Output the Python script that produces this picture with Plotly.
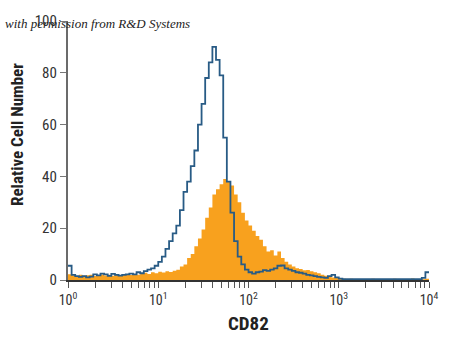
import numpy as np
import plotly.graph_objects as go

# Histogram bins: 100 bins spanning 4 decades (log10 width 0.04)
bin_width_log = 0.04
n_bins = 100

# Relative cell number per bin
isotype_orange = [
    2.2, 1.8, 1.5, 2.0, 1.6, 1.8, 2.0, 1.5, 1.9, 2.1,
    1.7, 2.0, 1.6, 2.2, 1.8, 2.0, 2.3, 1.9, 2.2, 2.0,
    2.4, 2.8, 2.3, 3.0, 2.6, 3.2, 2.9, 3.4, 3.1, 3.6,
    4.0, 5.2, 6.0, 8.5, 10, 13, 16, 19.5, 24, 28,
    33, 35, 37, 39, 38, 36.5, 33, 30, 26, 23,
    21, 19, 17, 15.5, 13, 11, 11.5, 9.5, 11, 8.5,
    7, 6, 5.2, 4.5, 4.2, 3.8, 3.9, 3.4, 3.0, 2.6,
    2.0, 1.6, 1.2, 1.0, 0.8, 0.6, 0.5, 0.4, 0.5, 0.3,
    0.4, 0.3, 0.4, 0.3, 0.5, 0.3, 0.3, 0.4, 0.3, 0.3,
    0.5, 0.3, 0.3, 0.4, 0.3, 0.6, 0.3, 0.4, 0.3, 0.5,
]
cd82_blue = [
    5.5, 2.0, 1.5, 1.2, 1.5, 1.0, 1.3, 2.2, 1.8, 2.5,
    2.2, 1.6, 2.4, 2.0, 1.7, 2.0, 2.2, 2.5, 2.2, 3.0,
    2.6, 3.4, 4.0, 4.5, 5.5, 7.0, 9.0, 12, 15, 18,
    21, 27, 34, 38, 44, 50, 60, 68, 78, 84,
    90, 85, 79, 55, 38, 26, 15, 9, 6, 4,
    3.0, 2.5, 3.0, 3.2, 3.8, 3.5, 4.0, 4.5, 5.5, 5.6,
    4.5, 4.0, 3.5, 3.0, 2.8, 2.5, 2.0, 1.8, 1.5, 1.2,
    1.0, 0.8, 1.5, 2.0, 1.0, 0.5, 0.3, 0.3, 0.3, 0.3,
    0.3, 0.3, 0.3, 0.3, 0.3, 0.3, 0.3, 0.3, 0.3, 0.3,
    0.3, 0.3, 0.3, 0.3, 0.3, 0.3, 0.3, 0.3, 0.8, 3.0,
]

y_tick_vals = [0, 20, 40, 60, 80, 100]
x_major = [1, 10, 100, 1000, 10000]
x_major_labels = ["10<sup>0</sup>", "10<sup>1</sup>", "10<sup>2</sup>", "10<sup>3</sup>", "10<sup>4</sup>"]

edges = 10 ** (np.arange(n_bins + 1) * bin_width_log)
x_steps = list(edges)
orange_steps = isotype_orange + [isotype_orange[-1]]
blue_steps = cd82_blue + [cd82_blue[-1]]

# tick grid: 1..9 per decade
tick_vals, tick_text = [], []
for d in range(4):
    for m in range(1, 10):
        tick_vals.append(m * 10 ** d)
        tick_text.append(x_major_labels[d] if m == 1 else "")
tick_vals.append(x_major[-1])
tick_text.append(x_major_labels[-1])

fig = go.Figure()
fig.add_trace(go.Scatter(
    x=x_steps, y=orange_steps, mode="lines", line_shape="hv",
    line=dict(width=0, color="#F8A11E"), fill="tozeroy", fillcolor="#F8A11E",
    hoverinfo="skip", showlegend=False))
fig.add_trace(go.Scatter(
    x=x_steps, y=blue_steps, mode="lines", line_shape="hv",
    line=dict(width=1.8, color="#285B85"), hoverinfo="skip", showlegend=False))

font_family = "Liberation Sans Narrow, Arial Narrow, Roboto Condensed, sans-serif"

fig.update_layout(
    width=450, height=342,
    margin=dict(l=68, r=18, t=13, b=62),
    paper_bgcolor="white", plot_bgcolor="white",
    font=dict(family=font_family, size=14, color="#333333"),
    xaxis=dict(
        type="log", range=[0, 4], tickvals=tick_vals, ticktext=tick_text,
        ticks="outside", ticklen=6, tickwidth=1, tickcolor="#555555",
        showline=True, linecolor="#333333", linewidth=1.5,
        showgrid=False, zeroline=False,
        tickfont=dict(family=font_family, size=14, color="#333333"),
    ),
    yaxis=dict(
        range=[0, 100], tickvals=y_tick_vals,
        ticks="outside", ticklen=6, tickwidth=1, tickcolor="#777777",
        showline=True, linecolor="#6b6b6b", linewidth=2.2,
        showgrid=False, zeroline=False,
        tickfont=dict(family=font_family, size=15, color="#333333"),
    ),
    annotations=[
        dict(text="<b>Relative Cell Number</b>", x=17, y=130, xref="paper", yref="paper",
             showarrow=False, textangle=-90,
             font=dict(family=font_family, size=17, color="#222222")),
        dict(text="<b>CD82</b>", x=250, y=325, showarrow=False,
             font=dict(family=font_family, size=19, color="#222222")),
        dict(text="with permission from R&D Systems", x=98, y=16, showarrow=False,
             font=dict(family="Liberation Serif, DejaVu Serif, serif", size=13,
                       color="#222222", style="italic")),
    ],
)

# convert annotation pixel positions to paper coordinates
plot_w = 450 - 68 - 18
plot_h = 342 - 13 - 62
new_anns = []
for a in fig.layout.annotations:
    a.xref = "paper"
    a.yref = "paper"
    a.x = (a.x - 68) / plot_w
    a.y = (342 - 62 - a.y) / plot_h
    a.xanchor = "center"
    a.yanchor = "middle"
    new_anns.append(a)
fig.layout.annotations = new_anns

fig.write_html("out.html")
